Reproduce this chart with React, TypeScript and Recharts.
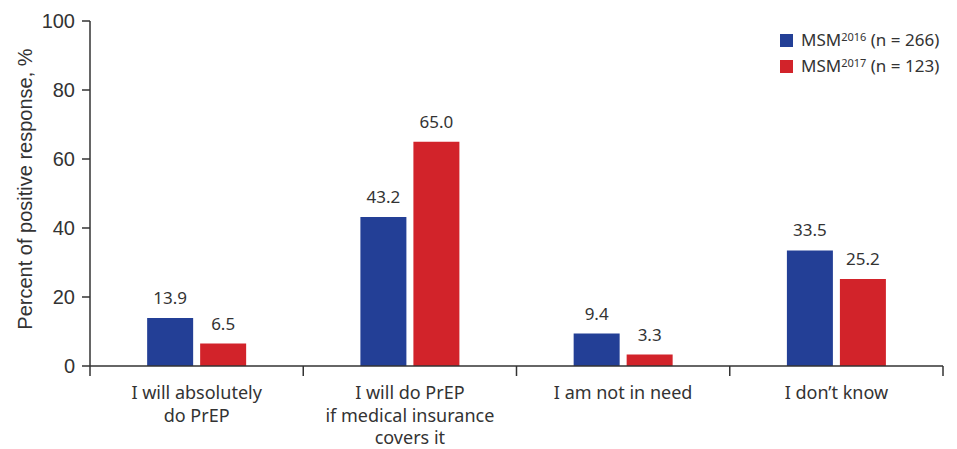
import { BarChart, Bar, XAxis, YAxis, LabelList, Label } from 'recharts';

const categories = ['I will absolutely do PrEP', 'I will do PrEP if medical insurance covers it', 'I am not in need', 'I don’t know'];
const categoryLines = [
  ['I will absolutely', 'do PrEP'],
  ['I will do PrEP', 'if medical insurance', 'covers it'],
  ['I am not in need'],
  ['I don’t know'],
];
const msm2016 = [13.9, 43.2, 9.4, 33.5];
const msm2017 = [6.5, 65.0, 3.3, 25.2];
const yTicks = [0, 20, 40, 60, 80, 100];
const legendItems = [
  { key: 'msm2016', year: '2016', n: 266 },
  { key: 'msm2017', year: '2017', n: 123 },
];

const data = categories.map((c, i) => ({ name: c, msm2016: msm2016[i], msm2017: msm2017[i] }));

const W = 957;
const H = 449;
const LEFT = 90;
const RIGHT = 14;
const XAXIS_H = 83;
const BAND = (W - LEFT - RIGHT) / categories.length;
const COLORS: Record<string, string> = { msm2016: '#233f96', msm2017: '#d2232a' };
const LABEL_FONT = '"Noto Sans", sans-serif';
const AXIS_FONT = '"Liberation Sans", Arial, sans-serif';

// category ticks: label in the middle, tick marks on the band edges
const CategoryTick = ({ x, payload, index }: any) => {
  const lines = categoryLines[index] || [payload.value];
  const axisY = H - XAXIS_H;
  return (
    <g>
      <line x1={x - BAND / 2} x2={x - BAND / 2} y1={axisY} y2={axisY + 10} stroke="#333" strokeWidth={1.5} />
      {index === categories.length - 1 && (
        <line x1={x + BAND / 2} x2={x + BAND / 2} y1={axisY} y2={axisY + 10} stroke="#333" strokeWidth={1.5} />
      )}
      <text x={x} y={axisY + 33} textAnchor="middle" fontSize={18} fill="#333" fontFamily={LABEL_FONT}>
        {lines.map((l: string, i: number) => (
          <tspan key={i} x={x} dy={i === 0 ? 0 : 22.5}>{l}</tspan>
        ))}
      </text>
    </g>
  );
};

export default function App() {
  return (
    <div style={{ position: 'absolute', left: 0, top: 0, width: W, height: H, background: '#fff' }}>
      <BarChart
        width={W}
        height={H}
        data={data}
        margin={{ top: 21, right: RIGHT, left: 0, bottom: 0 }}
        barCategoryGap="26.8%"
        barGap={7}
      >
        <XAxis
          dataKey="name"
          height={XAXIS_H}
          tickLine={false}
          axisLine={{ stroke: '#333', strokeWidth: 1.5 }}
          tick={<CategoryTick />}
          interval={0}
        />
        <YAxis
          width={LEFT}
          domain={[0, 100]}
          ticks={yTicks}
          tickSize={8}
          tickMargin={7}
          axisLine={{ stroke: '#333', strokeWidth: 1.5 }}
          tickLine={{ stroke: '#333', strokeWidth: 1.5 }}
          tick={{ fontSize: 20, fill: '#333', fontFamily: AXIS_FONT }}
        >
          <Label
            content={() => (
              <text
                x={25}
                y={189}
                transform="rotate(-90 25 189)"
                textAnchor="middle"
                dominantBaseline="central"
                fontSize={20}
                fill="#333"
                fontFamily={AXIS_FONT}
              >
                Percent of positive response, %
              </text>
            )}
          />
        </YAxis>
        {legendItems.map((s) => (
          <Bar key={s.key} dataKey={s.key} fill={COLORS[s.key]} isAnimationActive={false}>
            <LabelList
              dataKey={s.key}
              position="top"
              offset={14}
              formatter={(v: any) => Number(v).toFixed(1)}
              style={{ fontSize: 17, fill: '#333', fontFamily: LABEL_FONT }}
            />
          </Bar>
        ))}
      </BarChart>
      {/* legend drawn on top so it does not take room from the plot */}
      <div style={{ position: 'absolute', top: 27, left: 780, fontFamily: LABEL_FONT, fontSize: 17, color: '#333', lineHeight: '26px' }}>
        {legendItems.map((e) => (
          <div key={e.key} style={{ display: 'flex', alignItems: 'center' }}>
            <span style={{ width: 13, height: 13, background: COLORS[e.key], display: 'inline-block', marginRight: 8 }} />
            <span>
              MSM<sup style={{ fontSize: 11, verticalAlign: 'top', position: 'relative', top: -3 }}>{e.year}</sup> (n = {e.n})
            </span>
          </div>
        ))}
      </div>
    </div>
  );
}
